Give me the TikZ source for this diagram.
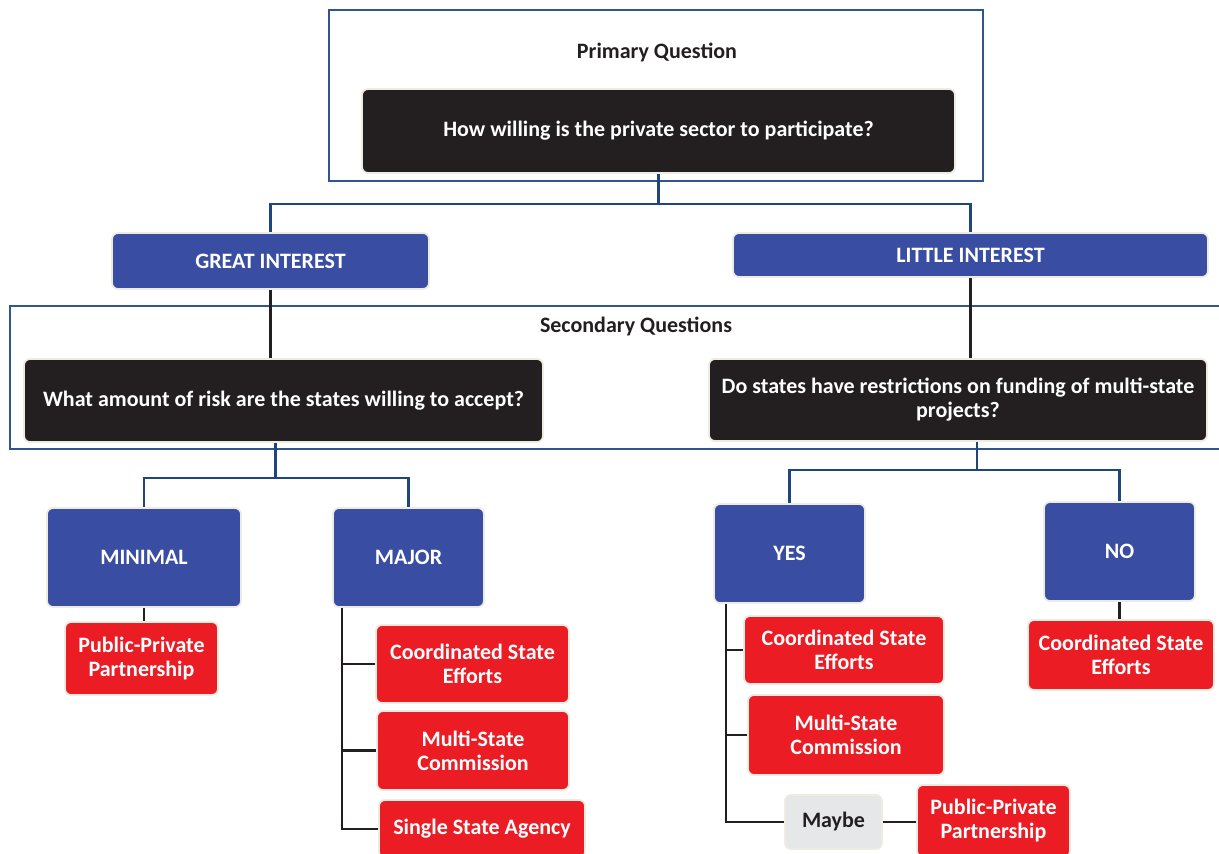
\documentclass[tikz,border=0pt]{standalone}
\usepackage{fontspec}
\setmainfont{Carlito}
\usetikzlibrary{calc}
\begin{document}
\begin{tikzpicture}[x=1pt,y=-1pt,
  font=\fontsize{22}{24}\selectfont\bfseries,
  box/.style={rectangle, rounded corners=6pt, draw=boxedge, line width=1.8pt, inner sep=0pt, align=center, text=white},
  blackbox/.style={box, fill=qblack},
  bluebox/.style={box, fill=ablue},
  redbox/.style={box, fill=rred},
  greybox/.style={box, fill=mgrey, text=qblack},
  frame/.style={draw=fblue, line width=2pt},
  bluecon/.style={draw=cblue, line width=2.6pt},
  blackcon/.style={draw=qblack, line width=2.6pt},
  title/.style={text=qblack, inner sep=0pt}
]
\definecolor{qblack}{RGB}{35,31,32}
\definecolor{boxedge}{RGB}{238,236,224}
\definecolor{ablue}{RGB}{57,78,162}
\definecolor{rred}{RGB}{236,28,36}
\definecolor{mgrey}{RGB}{230,231,232}
\definecolor{fblue}{RGB}{48,86,146}
\definecolor{cblue}{RGB}{30,70,125}
\useasboundingbox (0,0) rectangle (1219,854);
\clip (0,0) rectangle (1219,854);

% frames
\node[frame, rectangle, minimum width=654pt, minimum height=171pt, inner sep=0pt] (pframe) at (656,95.5) {};
\node[title] (ptitle) at (657,52) {Primary Question};
\draw[frame] (1240,306) -| (10,449) -- (1240,449);
\node[title] (stitle) at (636,326) {Secondary Questions};

% nodes
\node[blackbox, minimum width=593pt, minimum height=84pt] (q1) at (658.5,131) {How willing is the private sector to participate?};
\node[bluebox, minimum width=317pt, minimum height=56pt] (great) at (270.5,261) {GREAT INTEREST};
\node[bluebox, minimum width=475pt, minimum height=44pt] (little) at (970.5,255) {LITTLE INTEREST};
\node[blackbox, minimum width=519pt, minimum height=83pt] (risk) at (283.5,400.5) {What amount of risk are the states willing to accept?};
\node[blackbox, minimum width=498pt, minimum height=82pt] (restr) at (958,400) {Do states have restrictions on funding of multi-state\\projects?};
\node[bluebox, minimum width=194pt, minimum height=99pt] (minimal) at (144,557.5) {MINIMAL};
\node[bluebox, minimum width=151pt, minimum height=99pt] (major) at (408.5,557.5) {MAJOR};
\node[redbox, minimum width=153pt, minimum height=73pt] (ppp1) at (141.5,658.5) {Public-Private\\Partnership};
\node[redbox, minimum width=193pt, minimum height=78pt] (cse1) at (472.5,664) {Coordinated State\\Efforts};
\node[redbox, minimum width=192pt, minimum height=79pt] (msc1) at (473,750.5) {Multi-State\\Commission};
\node[redbox, minimum width=206pt, minimum height=58pt] (ssa) at (482,829) {Single State Agency};
\node[bluebox, minimum width=151pt, minimum height=99pt] (yes) at (789.5,553.5) {YES};
\node[bluebox, minimum width=151pt, minimum height=99pt] (no) at (1119.5,551.5) {NO};
\node[redbox, minimum width=186pt, minimum height=70pt] (cse3) at (1121,655) {Coordinated State\\Efforts};
\node[redbox, minimum width=200pt, minimum height=68pt] (cse2) at (844,650) {Coordinated State\\Efforts};
\node[redbox, minimum width=196pt, minimum height=80pt] (msc2) at (846,735) {Multi-State\\Commission};
\node[greybox, minimum width=97pt, minimum height=54pt] (maybe) at (833.5,822) {Maybe};
\node[redbox, minimum width=153pt, minimum height=72pt] (ppp2) at (993.5,821) {Public-Private\\Partnership};

% connectors
\coordinate (j1) at ($(q1.south)+(0,30)$);
\draw[bluecon] (q1.south) -- (j1) -| (great.north);
\draw[bluecon] (j1) -| (little.north);
\draw[blackcon] (great.south) -- (great.south |- risk.north);
\draw[blackcon] (little.south) -- (little.south |- restr.north);
\coordinate (r0) at ([xshift=-8pt]risk.south);
\coordinate (j2) at ($(r0)+(0,35)$);
\draw[bluecon] (r0) -- (j2) -| (minimal.north);
\draw[bluecon] (j2) -| (major.north);
\coordinate (s0) at ([xshift=19pt]restr.south);
\coordinate (j3) at ($(s0)+(0,28)$);
\draw[bluecon] (s0) -- (j3) -| (yes.north);
\draw[bluecon] (j3) -| (no.north);
\draw[blackcon] (minimal.south) -- (minimal.south |- ppp1.north);
\draw[blackcon] (no.south) -- (no.south |- cse3.north);
\coordinate (mt) at ([xshift=10pt]major.south west);
\draw[blackcon] (mt) |- (ssa.west);
\draw[blackcon] (mt |- cse1.west) -- (cse1.west);
\draw[blackcon] (mt |- msc1.west) -- (msc1.west);
\coordinate (yt) at ([xshift=13pt]yes.south west);
\draw[blackcon] (yt) |- (maybe.west);
\draw[blackcon] (yt |- cse2.west) -- (cse2.west);
\draw[blackcon] (yt |- msc2.west) -- (msc2.west);
\draw[blackcon] (maybe.east) -- (maybe.east -| ppp2.west);
\end{tikzpicture}
\end{document}
